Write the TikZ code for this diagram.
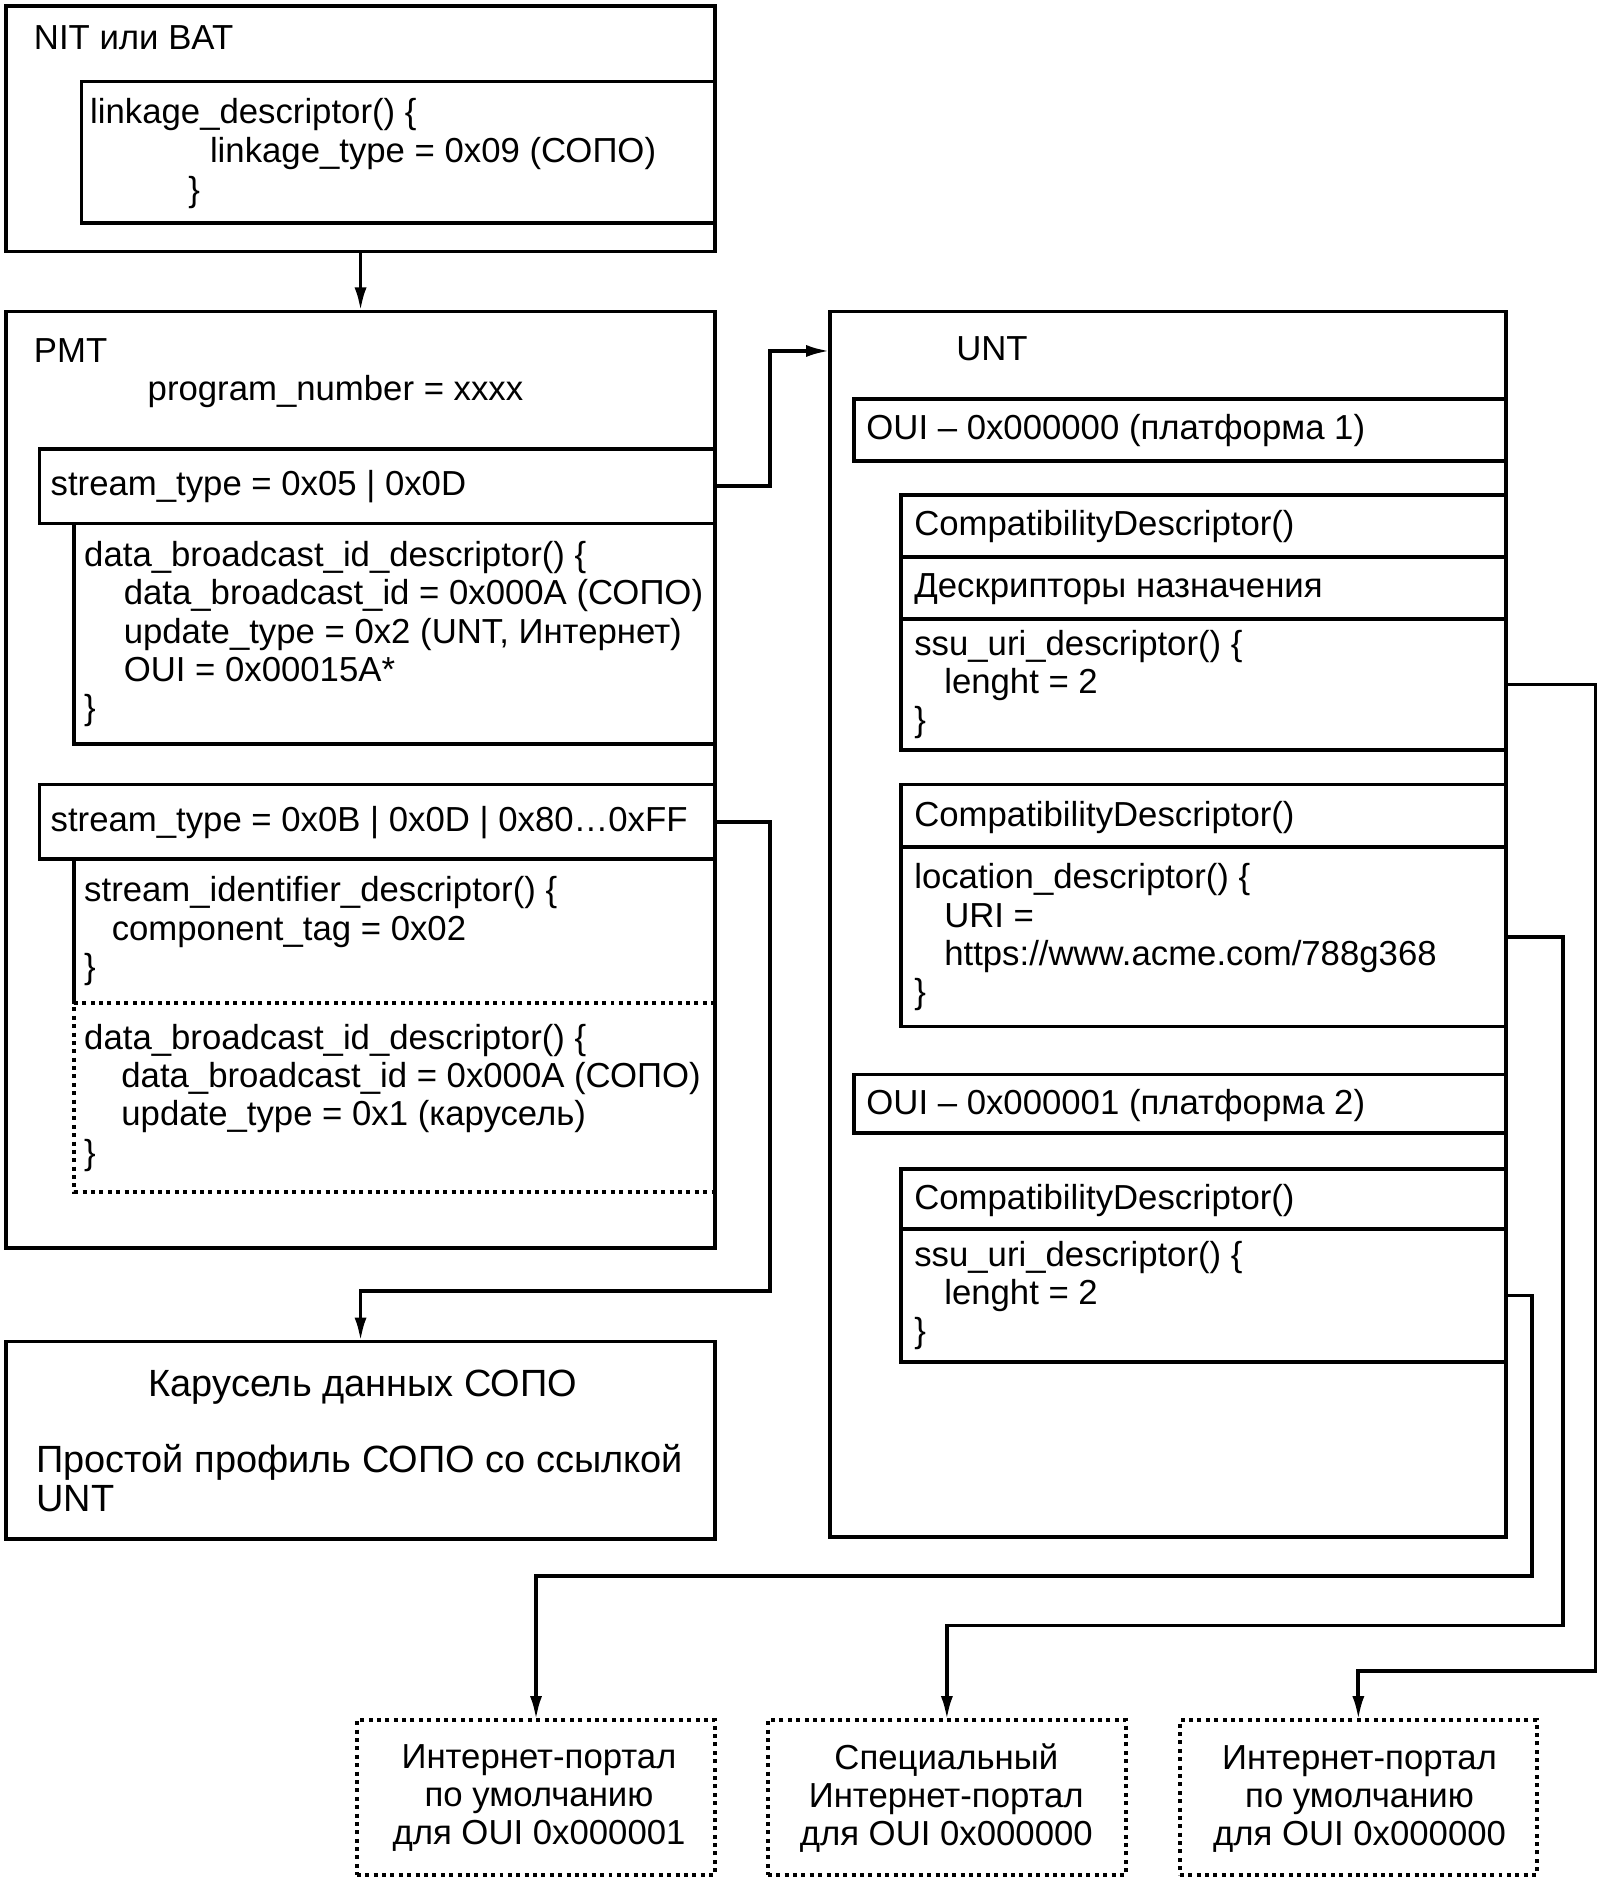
\documentclass[tikz,border=0pt]{standalone}
\usepackage{fontspec}
\setmainfont{Liberation Sans}
\usetikzlibrary{arrows.meta,fit,calc}
\begin{document}
\begin{tikzpicture}[x=0.6pt,y=-0.6pt,
  box/.style={draw, line width=1.9pt, inner sep=0pt, outer sep=0pt},
  area/.style={inner sep=0pt, outer sep=0pt},
  dotline/.style={line width=1.9pt, dash pattern=on 2pt off 2.2pt},
  dotbox/.style={draw, line width=1.9pt, dash pattern=on 2pt off 2.2pt, inner sep=0pt, outer sep=0pt},
  conn/.style={line width=1.9pt, -{Latex[length=12pt,width=6pt]}},
  txt/.style={inner sep=0pt, anchor=base west, font=\fontsize{17.4}{19}\selectfont},
  ctxt/.style={inner sep=0pt, anchor=base, font=\fontsize{17.4}{19}\selectfont},
  bigtxt/.style={inner sep=0pt, anchor=base west, font=\fontsize{19}{21}\selectfont}]
\useasboundingbox (0,0) rectangle (1340,1572);
\fill[white] (0,0) rectangle (1340,1572);

% NIT
\node[box, fit={(5,5) (597,210)}] (nit) {};
\node[box, fit={(68,68) (597,186)}] (link) {};
\node[txt] (t1) at (28,41) {NIT или BAT};
\node[txt] (t2) at (75,103) {linkage\_descriptor() \{};
\node[txt] (t3) at (175,136) {linkage\_type = 0x09 (СОПО)};
\node[txt] (t4) at (157,168) {\}};

% PMT
\node[box, fit={(5,260) (597,1042)}] (pmt) {};
\node[txt] (t5) at (28,303) {PMT};
\node[txt] (t6) at (123,334) {program\_number = xxxx};
\node[box, fit={(33,375) (597,437)}] (st1) {};
\node[txt] (t7) at (42,414) {stream\_type = 0x05 | 0x0D};
\node[box, fit={(62,437) (597,621)}] (dbd1) {};
\node[txt] (t8) at (70,473) {data\_broadcast\_id\_descriptor() \{};
\node[txt] (t9) at (103,505) {data\_broadcast\_id = 0x000A (СОПО)};
\node[txt] (t10) at (103,537) {update\_type = 0x2 (UNT, Интернет)};
\node[txt] (t11) at (103,569) {OUI = 0x00015A*};
\node[txt] (t12) at (70,601) {\}};
\node[box, fit={(33,655) (597,717)}] (st2) {};
\node[txt] (t13) at (42,694) {stream\_type = 0x0B | 0x0D | 0x80…0xFF};
\node[area, fit={(62,717) (597,837)}] (sid) {};
\draw[line width=1.9pt] (sid.north west) -- (sid.south west);
\node[txt] (t14) at (70,753) {stream\_identifier\_descriptor() \{};
\node[txt] (t15) at (93,785) {component\_tag = 0x02};
\node[txt] (t16) at (70,817) {\}};
\node[area, fit={(62,837) (597,995)}] (dbd2) {};
\draw[dotline] (dbd2.north east) -- (dbd2.north west) -- (dbd2.south west) -- (dbd2.south east);
\node[txt] (t17) at (70,876) {data\_broadcast\_id\_descriptor() \{};
\node[txt] (t18) at (101,908) {data\_broadcast\_id = 0x000A (СОПО)};
\node[txt] (t19) at (101,940) {update\_type = 0x1 (карусель)};
\node[txt] (t20) at (70,972) {\}};

% Carousel
\node[box, fit={(5,1120) (597,1285)}] (car) {};
\node[bigtxt, anchor=base] (t21) at (303,1166) {Карусель данных СОПО};
\node[bigtxt] (t22) at (30,1229) {Простой профиль СОПО со ссылкой};
\node[bigtxt] (t23) at (30,1262) {UNT};

% UNT
\node[box, fit={(693,260) (1257,1283)}] (unt) {};
\node[txt] (t24) at (798,301) {UNT};
\node[box, fit={(713,333) (1257,385)}] (oui1) {};
\node[txt] (t25) at (723,367) {OUI – 0x000000 (платформа 1)};
\node[box, fit={(752,413) (1257,465)}] (cd1) {};
\node[txt] (t26) at (763,447) {CompatibilityDescriptor()};
\node[box, fit={(752,465) (1257,517)}] (dn) {};
\node[txt] (t27) at (763,499) {Дескрипторы назначения};
\node[box, fit={(752,517) (1257,626)}] (ssu1) {};
\node[txt] (t28) at (763,547) {ssu\_uri\_descriptor() \{};
\node[txt] (t29) at (788,579) {lenght = 2};
\node[txt] (t30) at (763,611) {\}};
\node[box, fit={(752,655) (1257,707)}] (cd2) {};
\node[txt] (t31) at (763,690) {CompatibilityDescriptor()};
\node[box, fit={(752,707) (1257,857)}] (loc) {};
\node[txt] (t32) at (763,742) {location\_descriptor() \{};
\node[txt] (t33) at (788,774) {URI =};
\node[txt] (t34) at (788,806) {https://www.acme.com/788g368};
\node[txt] (t35) at (763,838) {\}};
\node[box, fit={(713,897) (1257,946)}] (oui2) {};
\node[txt] (t36) at (723,930) {OUI – 0x000001 (платформа 2)};
\node[box, fit={(752,976) (1257,1026)}] (cd3) {};
\node[txt] (t37) at (763,1010) {CompatibilityDescriptor()};
\node[box, fit={(752,1026) (1257,1137)}] (ssu2) {};
\node[txt] (t38) at (763,1057) {ssu\_uri\_descriptor() \{};
\node[txt] (t39) at (788,1089) {lenght = 2};
\node[txt] (t40) at (763,1121) {\}};

% Bottom portals
\node[dotbox, fit={(298,1436) (597,1565)}] (p1) {};
\node[ctxt] (t41) at (450,1476) {Интернет-портал};
\node[ctxt] (t42) at (450,1508) {по умолчанию};
\node[ctxt] (t43) at (450,1540) {для OUI 0x000001};
\node[dotbox, fit={(641,1436) (940,1565)}] (p2) {};
\node[ctxt] (t44) at (790,1477) {Специальный};
\node[ctxt] (t45) at (790,1509) {Интернет-портал};
\node[ctxt] (t46) at (790,1541) {для OUI 0x000000};
\node[dotbox, fit={(985,1436) (1283,1565)}] (p3) {};
\node[ctxt] (t47) at (1135,1477) {Интернет-портал};
\node[ctxt] (t48) at (1135,1509) {по умолчанию};
\node[ctxt] (t49) at (1135,1541) {для OUI 0x000000};

% Connectors
\draw[conn] (nit.south) -- (pmt.north);
\draw[conn] (st1.east) -- ++(46,0) |- ($(unt.north west)+(0,33)$);
\draw[conn] (st2.east) -- ++(46,0) |- ($(car.north)+(0,-42)$) -- (car.north);
\draw[conn] (ssu1.east) -- ++(75,0) |- ($(p3.north)+(0,-41)$) -- (p3.north);
\draw[conn] (loc.east) -- ++(48,0) |- ($(p2.north)+(0,-79)$) -- (p2.north);
\draw[conn] (ssu2.east) -- ++(22,0) |- ($(p1.north)+(0,-120)$) -- (p1.north);
\end{tikzpicture}
\end{document}
